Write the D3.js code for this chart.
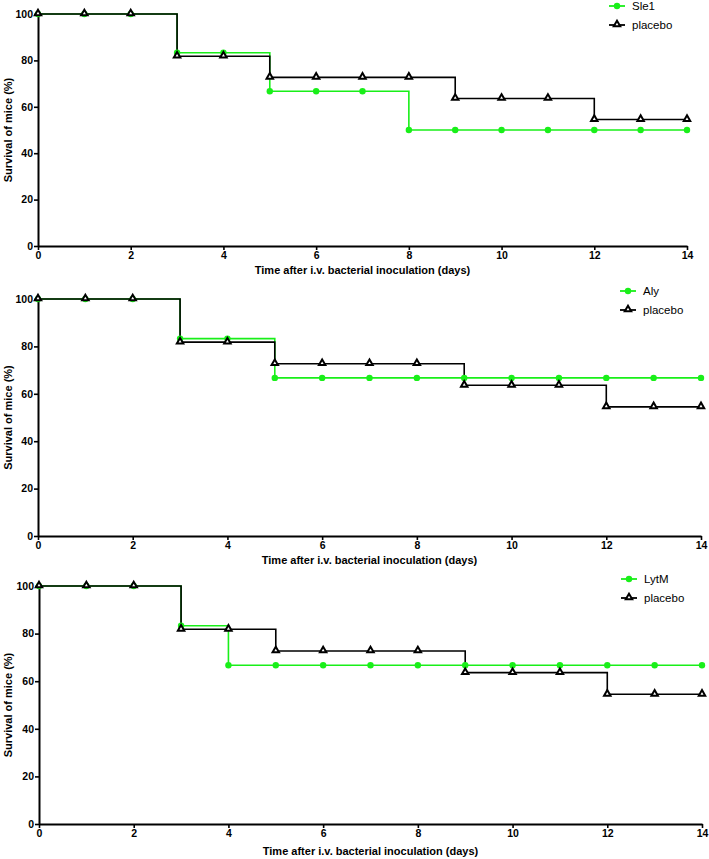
<!DOCTYPE html>
<html>
<head>
<meta charset="utf-8">
<script src="https://cdn.jsdelivr.net/npm/d3@7"></script>
<style>
body { margin: 0; background: #fff; }
svg { display: block; font-family: "Liberation Sans", Arial, sans-serif; }
</style>
</head>
<body>
<svg id="chart" width="709" height="859"></svg>
<script>
const days = [0,1,2,3,4,5,6,7,8,9,10,11,12,13,14];
const sle1 =    [100,100,100,83.3,83.3,66.7,66.7,66.7,50,50,50,50,50,50,50];
const aly =     [100,100,100,83.3,83.3,66.7,66.7,66.7,66.7,66.7,66.7,66.7,66.7,66.7,66.7];
const lytm =    [100,100,100,83.3,66.7,66.7,66.7,66.7,66.7,66.7,66.7,66.7,66.7,66.7,66.7];
const placebo = [100,100,100,81.8,81.8,72.7,72.7,72.7,72.7,63.6,63.6,63.6,54.5,54.5,54.5];
const treatmentNames = ["Sle1", "Aly", "LytM"];
const placeboName = "placebo";
const xTicks = [0,2,4,6,8,10,12,14];
const yTicks = [0,20,40,60,80,100];
const xTitle = "Time after i.v. bacterial inoculation (days)";
const yTitle = "Survival of mice (%)";

const green = "#19ef19";
const svg = d3.select("#chart");

const panels = [
  {name: treatmentNames[0], vals: sle1, x0: 38, x1: 687, yTop: 14, yBot: 246, legX: 617, legY: 6, xTitleY: 274},
  {name: treatmentNames[1], vals: aly,  x0: 38, x1: 701, yTop: 299, yBot: 536, legX: 628, legY: 291, xTitleY: 564},
  {name: treatmentNames[2], vals: lytm, x0: 39, x1: 702, yTop: 586, yBot: 824, legX: 629, legY: 579, xTitleY: 855}
];

const triSym = d3.symbol().type(d3.symbolTriangle).size(18);

panels.forEach(p => {
  const g = svg.append("g");
  const x = d3.scaleLinear().domain([0,14]).range([p.x0, p.x1]);
  const y = d3.scaleLinear().domain([0,100]).range([p.yBot, p.yTop]);

  const line = d3.line().x(d => x(d[0])).y(d => y(d[1])).curve(d3.curveStepAfter);

  const series = [
    {vals: p.vals, color: green, shape: "circle"},
    {vals: placebo, color: "#000", shape: "triangle"}
  ];

  const xa = g.append("g").attr("transform", `translate(0,${p.yBot})`)
    .call(d3.axisBottom(x).tickValues(xTicks).tickSize(4).tickPadding(2).tickSizeOuter(0));
  const ya = g.append("g").attr("transform", `translate(${p.x0},0)`)
    .call(d3.axisLeft(y).tickValues(yTicks).tickSize(4).tickPadding(1).tickSizeOuter(0));
  [xa, ya].forEach(a => {
    a.select(".domain").attr("stroke", "#000").attr("stroke-width", 2);
    a.selectAll(".tick line").attr("stroke", "#000").attr("stroke-width", 1.6);
    a.selectAll(".tick text").attr("fill", "#000").attr("font-size", 10.5).attr("font-weight", "bold")
      .attr("font-family", "Liberation Sans, Arial, sans-serif");
  });

  series.forEach(s => {
    const pts = days.map((d, i) => [d, s.vals[i]]);
    g.append("path").datum(pts).attr("d", line)
      .attr("fill", "none").attr("stroke", s.color).attr("stroke-width", 1.6);
  });
  series.forEach(s => {
    const pts = days.map((d, i) => [d, s.vals[i]]);
    if (s.shape === "circle") {
      g.selectAll(null).data(pts).enter().append("circle")
        .attr("cx", d => x(d[0])).attr("cy", d => y(d[1])).attr("r", 3.2).attr("fill", green);
    } else {
      g.selectAll(null).data(pts).enter().append("path")
        .attr("d", triSym)
        .attr("transform", d => `translate(${x(d[0])},${y(d[1]) - 0.5})`)
        .attr("fill", "#fff").attr("stroke", "#000").attr("stroke-width", 2);
    }
  });

  g.append("text").attr("x", (p.x0 + p.x1) / 2).attr("y", p.xTitleY)
    .attr("text-anchor", "middle").attr("font-size", 11).attr("font-weight", "bold").text(xTitle);
  g.append("text").attr("transform", `translate(12,${(p.yTop + p.yBot) / 2}) rotate(-90)`)
    .attr("text-anchor", "middle").attr("font-size", 11).attr("font-weight", "bold").text(yTitle);

  const leg = [
    {label: p.name, color: green, shape: "circle", dy: 0},
    {label: placeboName, color: "#000", shape: "triangle", dy: 19}
  ];
  leg.forEach(l => {
    const ly = p.legY + l.dy;
    g.append("line").attr("x1", p.legX - 8).attr("x2", p.legX + 8).attr("y1", ly).attr("y2", ly)
      .attr("stroke", l.color).attr("stroke-width", 1.8);
    if (l.shape === "circle") {
      g.append("circle").attr("cx", p.legX).attr("cy", ly).attr("r", 3.2).attr("fill", green);
    } else {
      g.append("path").attr("d", triSym)
        .attr("transform", `translate(${p.legX},${ly - 0.5})`)
        .attr("fill", "#fff").attr("stroke", "#000").attr("stroke-width", 2);
    }
    g.append("text").attr("x", p.legX + 15).attr("y", ly).attr("dy", "0.35em")
      .attr("font-size", 11.5).attr("fill", "#000").text(l.label);
  });
});
</script>
</body>
</html>
